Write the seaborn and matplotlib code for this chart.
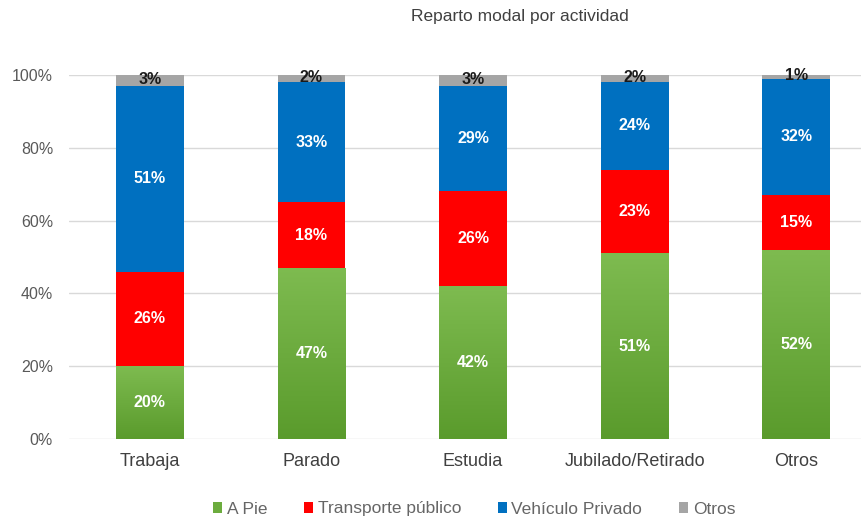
import numpy as np
import pandas as pd
import matplotlib
matplotlib.use("Agg")
import matplotlib.pyplot as plt
import seaborn as sns
from matplotlib.patches import Patch
from matplotlib.colors import LinearSegmentedColormap

categorias = ["Trabaja", "Parado", "Estudia", "Jubilado/Retirado", "Otros"]
a_pie = [20, 47, 42, 51, 52]
transporte = [26, 18, 26, 23, 15]
vehiculo = [51, 33, 29, 24, 32]
otros = [3, 2, 3, 2, 1]
series = ["A Pie", "Transporte público", "Vehículo Privado", "Otros"]
y_ticks = [0, 20, 40, 60, 80, 100]

colores = {"A Pie": "#6aaa3c", "Transporte público": "#ff0000",
           "Vehículo Privado": "#0070c0", "Otros": "#a5a5a5"}

sns.set_theme(style="white")
plt.rcParams["font.family"] = ["Liberation Sans", "DejaVu Sans"]

fig = plt.figure(figsize=(8.61, 5.19), dpi=100)
ax = fig.add_axes([69 / 861, 1 - 439 / 519, 792 / 861, 364 / 519])

df = pd.DataFrame({"cat": categorias, "A Pie": a_pie, "Transporte público": transporte,
                   "Vehículo Privado": vehiculo, "Otros": otros})
capas = df[series].cumsum(axis=1)
bases = capas.shift(1, axis=1).fillna(0)

# stacked bars: draw cumulative totals from the top layer down
for s in reversed(series):
    sns.barplot(x=df["cat"], y=capas[s], color=colores[s], saturation=1,
                width=0.42, ax=ax, order=categorias, linewidth=0, zorder=2)

# green layer gets a vertical gradient
verde = LinearSegmentedColormap.from_list("verde", ["#5a9b2c", "#7ebb50"])
grad = np.linspace(0, 1, 256).reshape(-1, 1)
for bar in ax.patches[-len(categorias):]:
    x0 = bar.get_x()
    w = bar.get_width()
    h = bar.get_height()
    im = ax.imshow(grad, extent=(x0, x0 + w, 0, h), origin="lower", cmap=verde,
                   aspect="auto", zorder=2.5)
    im.set_clip_path(bar)
    bar.set_facecolor("none")

# value labels
for i in range(len(categorias)):
    for s in series:
        v = df.loc[i, s]
        if s == "Otros":
            y = bases.loc[i, s] + v / 2 + 0.3
            ax.text(i, y, f"{v}%", ha="center", va="center", fontsize=11.5,
                    fontweight="bold", color="#1a1a1a", zorder=4)
        else:
            y = bases.loc[i, s] + v / 2
            ax.text(i, y, f"{v}%", ha="center", va="center", fontsize=11.5,
                    fontweight="bold", color="white", zorder=4)

ax.set_xlim(-0.5, 4.4)
ax.set_ylim(0, 100)
ax.set_yticks(y_ticks)
ax.set_yticklabels([f"{t}%" for t in y_ticks], fontsize=11.5, color="#595959")
ax.tick_params(axis="y", pad=11.5, length=0)
ax.tick_params(axis="x", labelsize=13, labelcolor="#404040", length=0, pad=10)
ax.grid(axis="y", color="#d9d9d9", linewidth=1, zorder=0)
ax.set_axisbelow(True)
for sp in ax.spines.values():
    sp.set_visible(False)
ax.set_xlabel("")
ax.set_ylabel("")

fig.text(520 / 861, 1 - 17 / 519, "Reparto modal por actividad", ha="center",
         va="center", fontsize=12.5, color="#404040")

handles = [Patch(facecolor=colores[s] if s != "A Pie" else "#6cac3e", edgecolor="none",
                 label=s) for s in series]
fig.legend(handles=handles, loc="center", bbox_to_anchor=(474 / 861, 1 - 509 / 519),
           ncol=4, frameon=False, fontsize=12.5, handlelength=0.55, handleheight=0.55,
           handletextpad=0.25, columnspacing=2.1, labelcolor="#666666")

fig.savefig("out.png", dpi=100)
